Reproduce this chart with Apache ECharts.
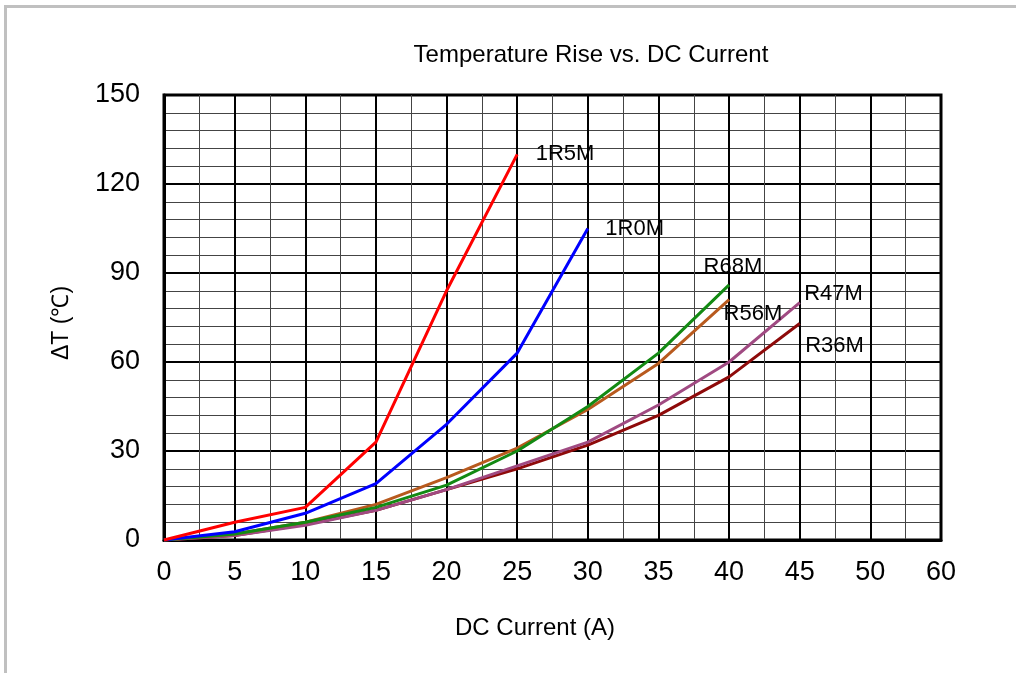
<!DOCTYPE html>
<html>
<head>
<meta charset="utf-8">
<script src="https://cdn.jsdelivr.net/npm/echarts@6/dist/echarts.min.js"></script>
<style>
html,body{margin:0;padding:0;background:#fff;}
#c{width:1016px;height:673px;}
</style>
</head>
<body>
<div id="c"></div>
<script>
// ---- data ----
const currents = [0, 5, 10, 15, 20, 25, 30, 35, 40, 45];
const seriesNames = ['1R5M', '1R0M', 'R68M', 'R56M', 'R47M', 'R36M'];
const v1R5M = [0, 6, 11, 33, 84, 130];
const v1R0M = [0, 2.8, 9, 19, 39, 63, 105];
const vR68M = [0, 2, 6, 11, 18.5, 30, 45, 63, 86];
const vR56M = [0, 2, 6, 12, 21, 31, 44, 59.5, 81];
const vR47M = [0, 1.5, 5, 10, 17, 25, 33, 45.5, 60, 80];
const vR36M = [0, 1.5, 5.3, 10, 17, 24, 32, 42, 55, 73];
const xTickLabels = ['0', '5', '10', '15', '20', '25', '30', '35', '40', '45', '50', '60'];
const yTickLabels = ['0', '30', '60', '90', '120', '150'];
const titleText = 'Temperature Rise vs. DC Current';
const xName = 'DC Current (A)';
const yName = '\u0394T (\u2103)';

// ---- styles ----
const colors = ['#FF0000', '#0000FF', '#138A13', '#B85A1E', '#A04A82', '#8E0A0A'];
const labelOffsets = [[18, 0], [17, 0], [-26, -18], [-6, 14], [4, -9], [5, 23]];
const FONT = '"Liberation Sans", Arial, sans-serif';

const allValues = [v1R5M, v1R0M, vR68M, vR56M, vR47M, vR36M];

const series = allValues.map((vals, i) => ({
  name: seriesNames[i],
  type: 'line',
  symbol: 'circle',
  symbolSize: 1,
  showSymbol: true,
  smooth: false,
  lineStyle: { color: colors[i], width: 3 },
  itemStyle: { color: 'rgba(0,0,0,0)' },
  z: 10 - i,
  data: vals.map((v, k) => {
    const pt = { value: [currents[k], v] };
    if (k === vals.length - 1) {
      pt.label = {
        show: true,
        formatter: seriesNames[i],
        position: 'right',
        distance: 0,
        offset: labelOffsets[i],
        color: '#000',
        fontSize: 22,
        fontFamily: FONT
      };
    }
    return pt;
  })
}));

const chart = echarts.init(document.getElementById('c'), null, { renderer: 'canvas' });
chart.setOption({
  animation: false,
  backgroundColor: '#fff',
  grid: {
    left: 164, right: 75, top: 95, bottom: 133,
    show: true, borderColor: '#000', borderWidth: 3, backgroundColor: 'transparent'
  },
  xAxis: {
    type: 'value', min: 0, max: 55, interval: 5,
    axisLine: { show: true, lineStyle: { color: '#000', width: 3 } },
    axisTick: { show: false },
    axisLabel: {
      margin: 19, color: '#000', fontSize: 27, fontFamily: FONT,
      formatter: (v) => xTickLabels[Math.round(v / 5)]
    },
    splitLine: { show: true, lineStyle: { color: '#000', width: 2 } },
    minorTick: { show: false, splitNumber: 2 },
    minorSplitLine: { show: true, lineStyle: { color: '#444', width: 1 } }
  },
  yAxis: {
    type: 'value', min: 0, max: 150, interval: 30,
    axisLine: { show: true, lineStyle: { color: '#000', width: 3 } },
    axisTick: { show: false },
    axisLabel: {
      margin: 24, color: '#000', fontSize: 27, fontFamily: FONT,
      formatter: (v) => yTickLabels[Math.round(v / 30)]
    },
    splitLine: { show: true, lineStyle: { color: '#000', width: 2 } },
    minorTick: { show: false, splitNumber: 5 },
    minorSplitLine: { show: true, lineStyle: { color: '#444', width: 1 } }
  },
  series: series,
  graphic: [
    { type: 'line', shape: { x1: 4, y1: 6.5, x2: 1016, y2: 6.5 }, style: { stroke: '#c0c0c0', lineWidth: 3 } },
    { type: 'line', shape: { x1: 5.5, y1: 5, x2: 5.5, y2: 673 }, style: { stroke: '#c0c0c0', lineWidth: 3 } },
    { type: 'text', x: 591, y: 55, style: { text: titleText, align: 'center', verticalAlign: 'middle', font: '24px ' + FONT, fill: '#000' } },
    { type: 'text', x: 535, y: 628, style: { text: xName, align: 'center', verticalAlign: 'middle', font: '24px ' + FONT, fill: '#000' } },
    { type: 'text', x: 62, y: 323, rotation: Math.PI / 2, style: { text: yName, align: 'center', verticalAlign: 'middle', font: '23px ' + FONT, fill: '#000' } }
  ]
});
</script>
</body>
</html>
